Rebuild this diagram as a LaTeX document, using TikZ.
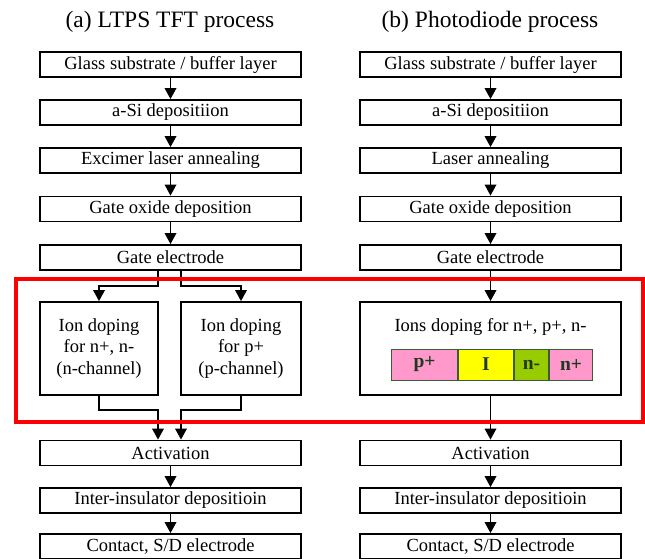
\documentclass[tikz,border=0pt]{standalone}
\usepackage{fontspec}
\setmainfont{Liberation Serif}
\usetikzlibrary{arrows.meta}
\tikzset{>={Triangle[length = 11pt, width = 11.5pt]}}
\definecolor{pinkseg}{HTML}{FF99CC}
\definecolor{yellowseg}{HTML}{FFFF00}
\definecolor{greenseg}{HTML}{99CC00}
\definecolor{segline}{HTML}{3A5A3A}
\definecolor{segtext}{HTML}{1E3A1E}
\tikzset{
    title/.style = {font = \fontsize{23.5}{27}\selectfont},
    procbox/.style = {draw, line width = 1.8pt, minimum width = 261pt, minimum height = 25pt, inner sep = 0pt, font = \fontsize{18.5}{21.5}\selectfont},
    dopebox/.style = {draw, line width = 1.8pt, minimum height = 93pt, inner sep = 0pt, align = center, font = \fontsize{18.5}{21.5}\selectfont},
    seg/.style = {draw = segline, line width = 1pt, minimum height = 31pt, inner sep = 0pt, anchor = west, text = segtext, font = \bfseries\fontsize{19.5}{22}\selectfont},
    flow/.style = {-{Triangle[length = 11pt, width = 11.5pt]}, line width = 1.8pt}
}

\begin{document}
\begin{tikzpicture}[x = 1pt, y = -1pt]
    \useasboundingbox (0,0) rectangle (645,558);
    \clip (0,0) rectangle (645,558);
    \node [title] (ta) at (170,22) {(a) LTPS TFT process};
    \node [title] (tb) at (490,22) {(b) Photodiode process};
    % process steps of both columns
    \foreach \c/\x/\ann in {a/170.5/Excimer laser annealing, b/490.5/Laser annealing}
    {
    \node [procbox] (\c1) at (\x,64.5) {Glass substrate / buffer layer};
    \node [procbox] (\c2) at (\x,112.5) {a-Si depositiion};
    \node [procbox] (\c3) at (\x,160.5) {\ann};
    \node [procbox] (\c4) at (\x,209) {Gate oxide deposition};
    \node [procbox] (\c5) at (\x,257.5) {Gate electrode};
    \node [procbox] (\c6) at (\x,453) {Activation};
    \node [procbox] (\c7) at (\x,500.5) {Inter-insulator depositioin};
    \node [procbox] (\c8) at (\x,546.5) {Contact, S/D electrode};
    }
    \foreach \c in {a,b}
    \foreach \i/\j in {1/2,2/3,3/4,4/5,6/7,7/8}
    \draw [flow] (\c\i.south) -- (\c\j.north);
    % ion doping, LTPS TFT
    \node [dopebox, minimum width = 118pt] (ndope) at (99,348.5) {Ion doping\\for n+, n-\\(n-channel)};
    \node [dopebox, minimum width = 120pt] (pdope) at (241,348.5) {Ion doping\\for p+\\(p-channel)};
    \draw [flow] ([xshift = -12.5pt] a5.south) -- ++(0,15) -| (ndope.north);
    \draw [flow] ([xshift = 10.5pt] a5.south) -- ++(0,15) -| (pdope.north);
    \draw [flow] (ndope.south) -- ++(0,14) -| ([xshift = -12.5pt] a6.north);
    \draw [flow] (pdope.south) -- ++(0,14) -| ([xshift = 10.5pt] a6.north);
    % ion doping, photodiode
    \node [dopebox, minimum width = 261pt] (ion) at (490.5,348.5) {};
    \node [font = \fontsize{18.5}{21.5}\selectfont] (iontxt) at (490.5,327) {Ions doping for n+, p+, n-};
    \node [seg, fill = pinkseg, minimum width = 66pt] (pp) at (391,364.5) {p+};
    \node [seg, fill = yellowseg, minimum width = 55pt] (ii) at (pp.east) {I};
    \node [seg, fill = greenseg, minimum width = 34pt] (nm) at (ii.east) {n-};
    \node [seg, fill = pinkseg, minimum width = 43pt] (np) at (nm.east) {n+};
    \draw [flow] (b5.south) -- (ion.north);
    \draw [flow] (ion.south) -- (b6.north);
    % highlighted doping step
    \draw [red, line width = 4.5pt] (16,279) rectangle (643,422);
\end{tikzpicture}
\end{document}
